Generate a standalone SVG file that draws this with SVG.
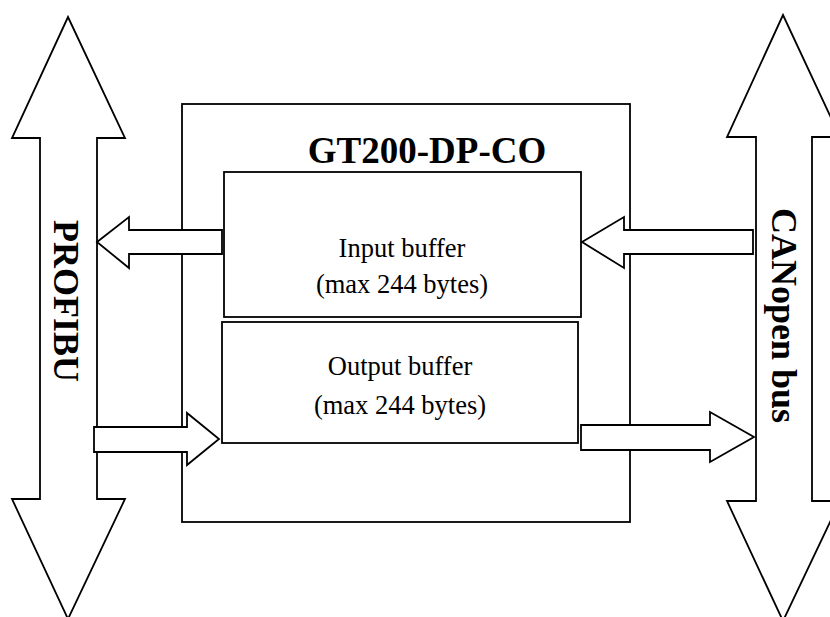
<svg xmlns="http://www.w3.org/2000/svg" width="830" height="617" viewBox="0 0 830 617">
<style>
.s{fill:#fff;stroke:#000;stroke-width:1.8;stroke-linejoin:miter}
.t{font-family:"Liberation Serif","Times New Roman",serif;fill:#000}
.b{font-weight:bold}
</style>
<rect width="830" height="617" fill="#fff"/>
<g id="profibus">
<polygon class="s" points="68,17 125,138 97,138 97,499 125,499 68,619 12,499 40,499 40,138 12,138"/>
<text class="t b" font-size="36" transform="translate(54,220) rotate(90)">PROFIBU</text>
</g>
<g id="canopen">
<polygon class="s" points="783,15 840,137 812,137 812,501 840,501 783,621 727,501 756,501 756,137 727,137"/>
<text class="t b" font-size="36" transform="translate(772,208) rotate(90)">CANopen bus</text>
</g>
<g id="gateway">
<rect class="s" x="182" y="104" width="448" height="418"/>
<text class="t b" font-size="37" x="427" y="163" text-anchor="middle">GT200-DP-CO</text>
</g>
<g id="input-buffer">
<rect class="s" x="224" y="172" width="357" height="145"/>
<text class="t" font-size="26.5" x="402" y="257" text-anchor="middle">Input buffer</text>
<text class="t" font-size="26.5" x="402" y="293" text-anchor="middle">(max 244 bytes)</text>
</g>
<g id="output-buffer">
<rect class="s" x="222" y="322" width="356" height="121"/>
<text class="t" font-size="26.5" x="400" y="375" text-anchor="middle">Output buffer</text>
<text class="t" font-size="26.5" x="400" y="414" text-anchor="middle">(max 244 bytes)</text>
</g>
<g id="connectors">
<polygon class="s" points="97,242 129,217 129,230 222,230 222,254 129,254 129,268"/>
<polygon class="s" points="582,242 624,217 624,230 753,230 753,254 624,254 624,268"/>
<polygon class="s" points="94,427 187,427 187,413 219,439 187,465 187,452 94,452"/>
<polygon class="s" points="581,425 710,425 710,412 754,437 710,462 710,450 581,450"/>
</g>
</svg>
